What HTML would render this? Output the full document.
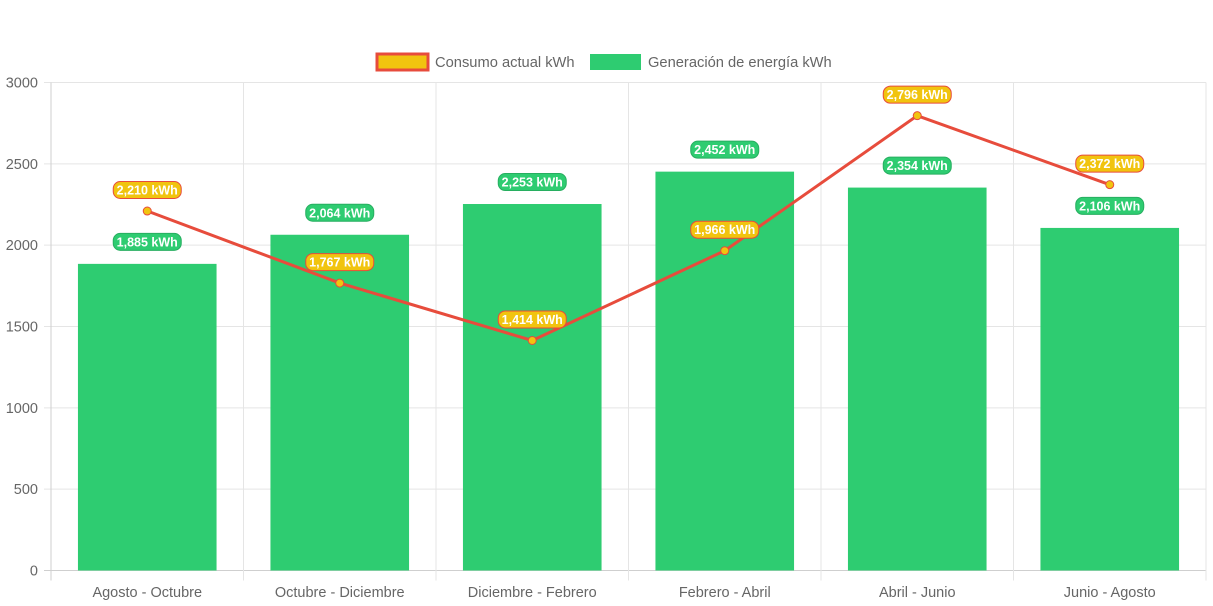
<!DOCTYPE html>
<html><head><meta charset="utf-8"><style>
body{margin:0;background:#fff;font-family:"Liberation Sans",Arial,sans-serif}
svg{display:block}
</style></head><body>
<svg id="c" width="1213" height="606"></svg>
<script>
const categories=["Agosto - Octubre","Octubre - Diciembre","Diciembre - Febrero","Febrero - Abril","Abril - Junio","Junio - Agosto"];
const consumo=[2210,1767,1414,1966,2796,2372];
const generacion=[1885,2064,2253,2452,2354,2106];
const yTicks=[0,500,1000,1500,2000,2500,3000];
const NS="http://www.w3.org/2000/svg";
const svg=document.getElementById('c');
const L=51,R=1206,T=82.5,B=570.5,YMAX=3000;
const cw=(R-L)/categories.length;
const y=v=>B-(v/YMAX)*(B-T);
const xc=i=>L+cw*(i+0.5);
function mk(tag,attrs,parent){const e=document.createElementNS(NS,tag);for(const k in attrs)e.setAttribute(k,attrs[k]);(parent||svg).appendChild(e);return e;}
yTicks.forEach(t=>{
 const g=mk('line',{x1:L-7,x2:R,y1:y(t),y2:y(t),stroke:t===0?'#cfcfcf':'#e5e5e5','stroke-width':1});
 
 
 const tx=mk('text',{x:L-13,y:y(t)+5,'text-anchor':'end','font-size':14.5,fill:'#666'});
 tx.textContent=t;
 
 
});
for(let i=0;i<=categories.length;i++){
 const v=mk('line',{x1:L+cw*i,x2:L+cw*i,y1:T,y2:B+10,stroke:i===0?'#cfcfcf':'#e5e5e5','stroke-width':1});
 
 
}
categories.forEach((c,i)=>{
 const tx=mk('text',{x:xc(i),y:597,'text-anchor':'middle','font-size':14.5,fill:'#666'});
 tx.textContent=c;
 
 
});
const bw=cw*0.72;
generacion.forEach((v,i)=>{
 const r=mk('rect',{x:xc(i)-bw/2,y:y(v),width:bw,height:B-y(v),fill:'#2ecc71'});
 
 
});
const pts=consumo.map((v,i)=>xc(i)+','+y(v)).join(' ');
const pl=mk('polyline',{points:pts,fill:'none',stroke:'#e74c3c','stroke-width':3});


consumo.forEach((v,i)=>{
 const p=mk('circle',{cx:xc(i),cy:y(v),r:4,fill:'#f1c40f',stroke:'#e74c3c','stroke-width':1});
 
 
});
function label(xv,yv,val,fill,stroke,name){
 const txt=val.toLocaleString('en-US')+' kWh';
 const w=68,h=17;
 const r=mk('rect',{x:xv-w/2,y:yv-h/2,width:w,height:h,rx:7,fill:fill,stroke:stroke,'stroke-width':1});
 
 
 const t=mk('text',{x:xv,y:yv+4.5,'text-anchor':'middle','font-size':12.5,'font-weight':'bold',fill:'#fff'});
 t.textContent=txt;
 
 
}
generacion.forEach((v,i)=>label(xc(i),y(v)-22,v,'#2ecc71','#27ae60','generacion-value-label'));
consumo.forEach((v,i)=>label(xc(i),y(v)-21,v,'#f1c40f','#e74c3c','consumo-value-label'));
const lg=mk('g',{});


const l1=mk('rect',{x:377,y:54,width:51,height:16,fill:'#f1c40f',stroke:'#e74c3c','stroke-width':3},lg);


const t1=mk('text',{x:435,y:67,'font-size':14.7,fill:'#666'},lg);
t1.textContent='Consumo actual kWh';


const l2=mk('rect',{x:590,y:54,width:51,height:16,fill:'#2ecc71'},lg);


const t2=mk('text',{x:648,y:67,'font-size':14.7,fill:'#666'},lg);
t2.textContent='Generación de energía kWh';


</script>
</body></html>
